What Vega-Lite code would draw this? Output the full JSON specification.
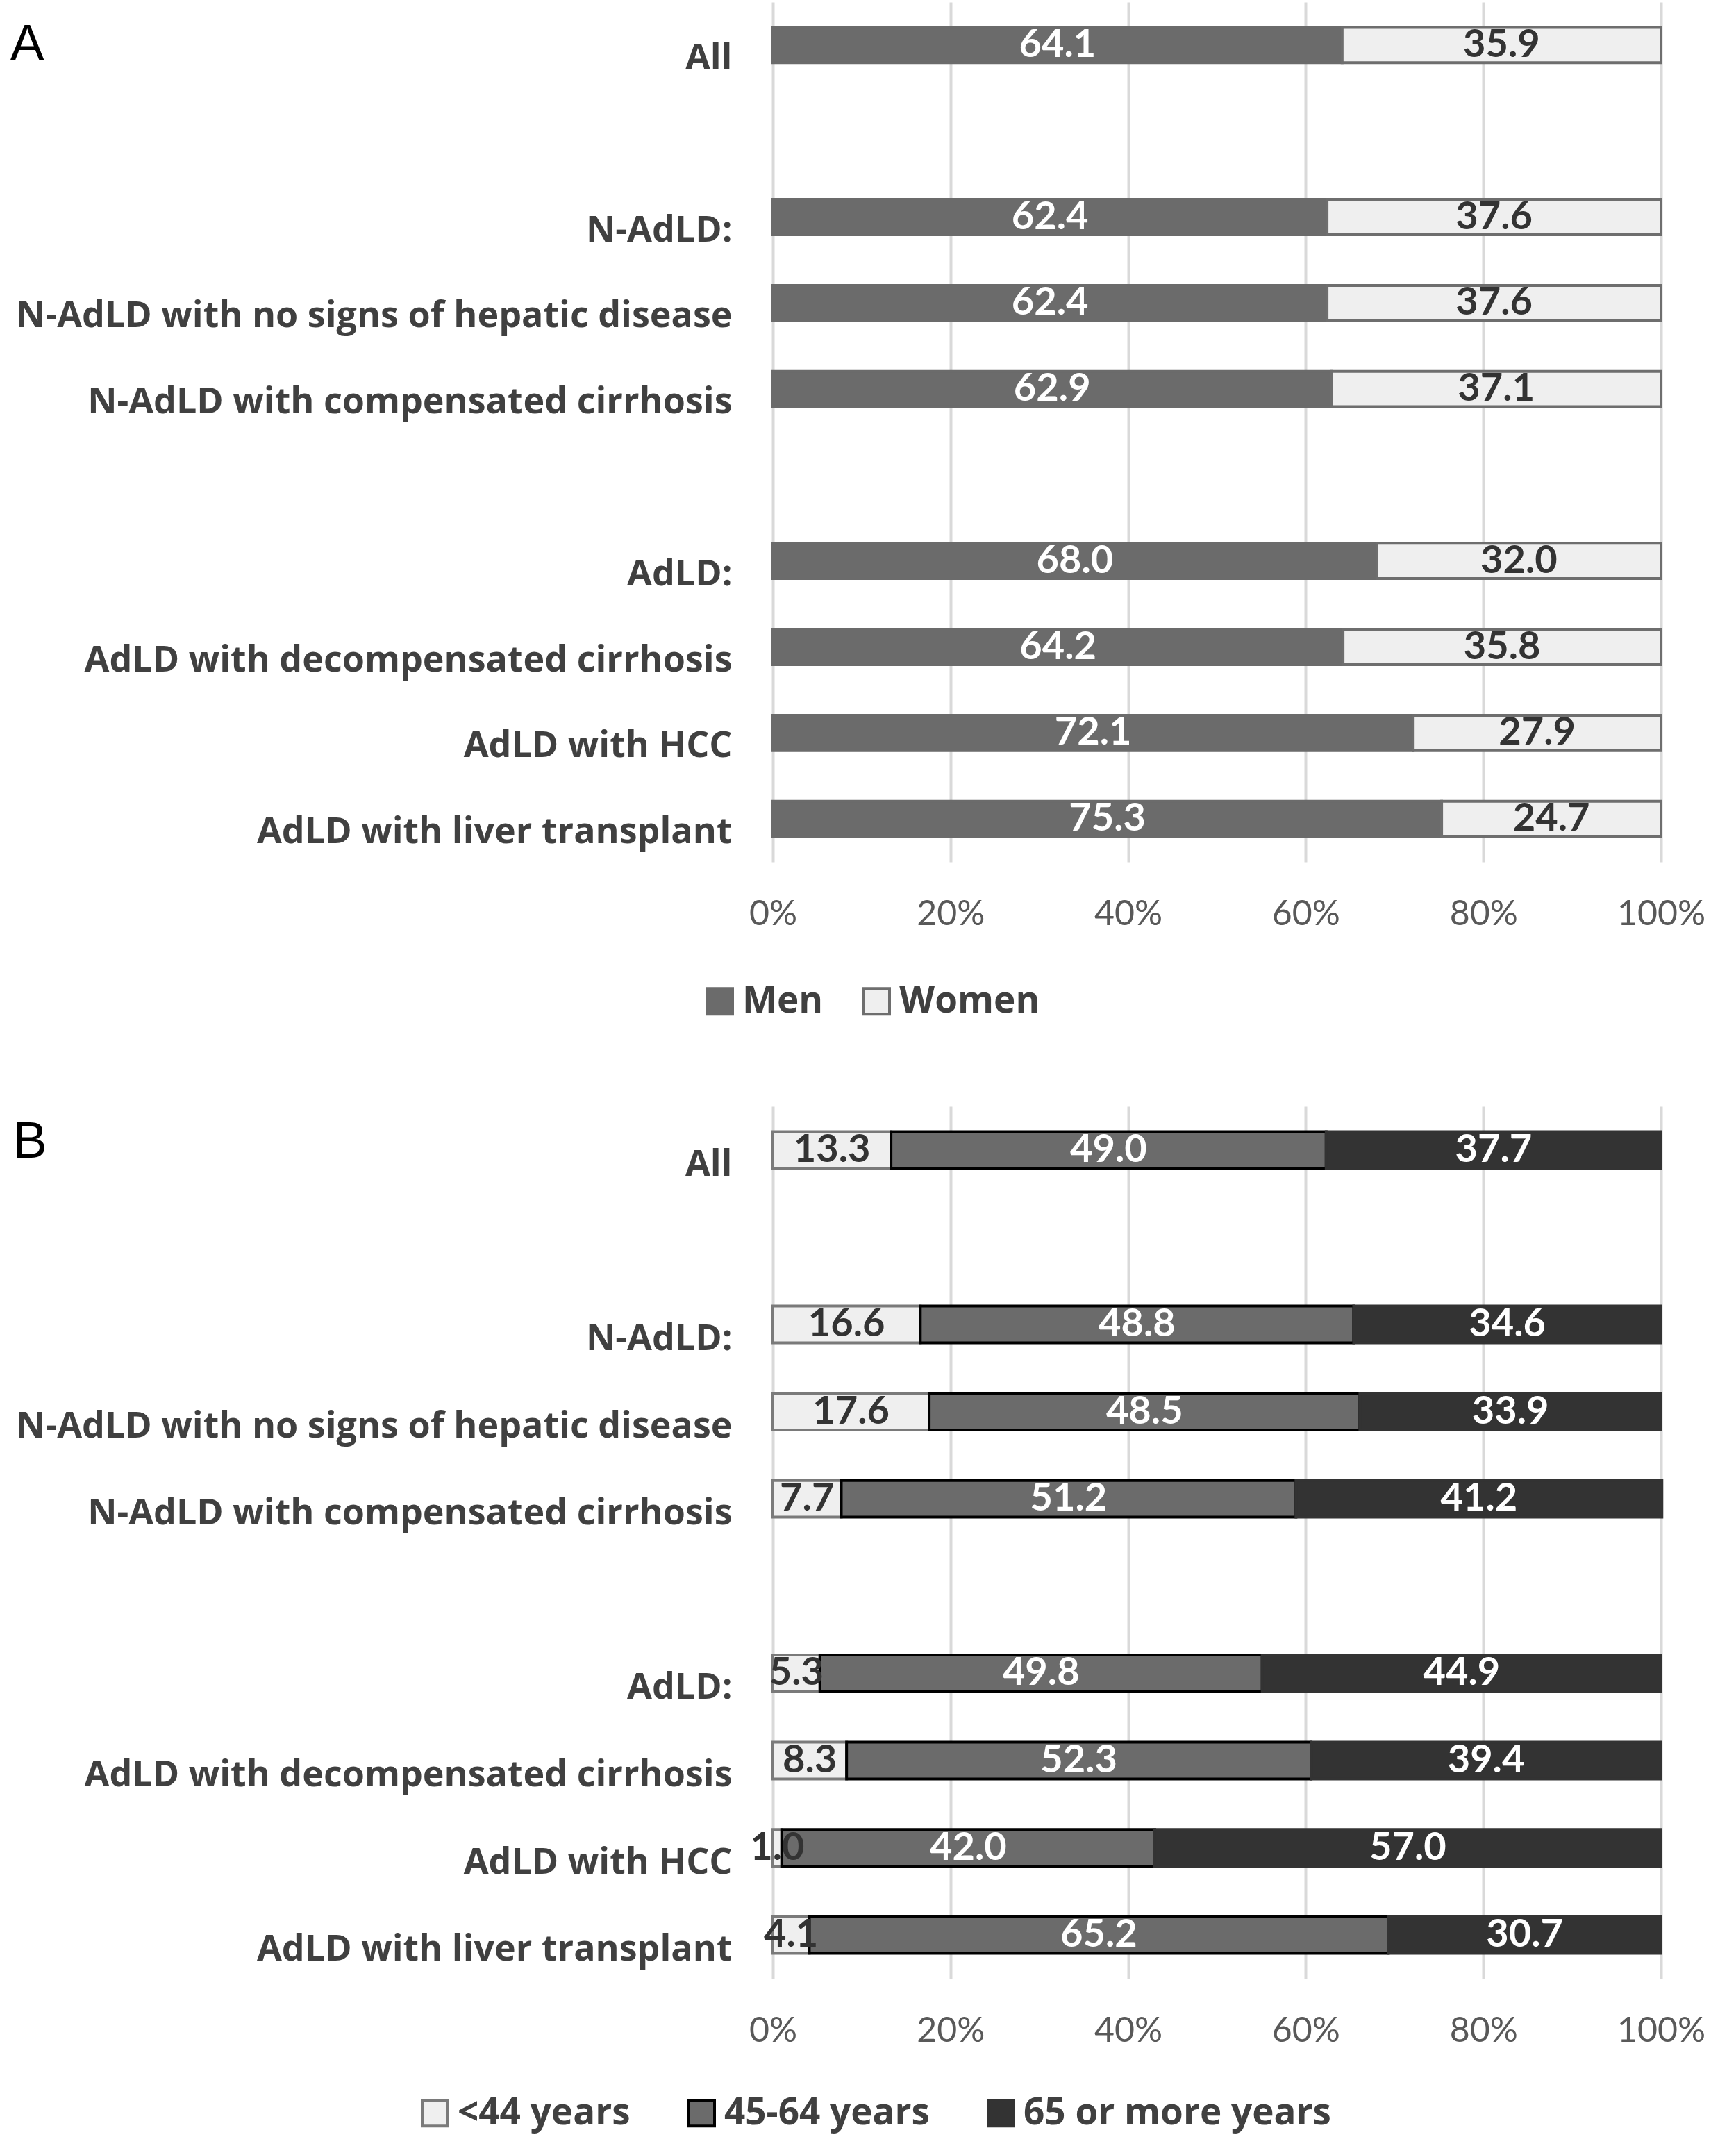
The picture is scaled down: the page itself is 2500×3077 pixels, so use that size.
{
  "$schema": "https://vega.github.io/schema/vega-lite/v6.json",
  "background": "white",
  "padding": {"left": 14, "top": 3, "right": 30, "bottom": 5},
  "spacing": 124,
  "resolve": {"scale": {"color": "independent", "stroke": "independent"}, "legend": {"color": "independent", "stroke": "independent"}},
  "config": {"view": {"stroke": null}, "font": "Lato"},
  "datasets": {
    "sex": [
      {"group": "All", "sex": "Men", "k": 1, "pct": 64.1},
      {"group": "All", "sex": "Women", "k": 2, "pct": 35.9},
      {"group": "N-AdLD:", "sex": "Men", "k": 1, "pct": 62.4},
      {"group": "N-AdLD:", "sex": "Women", "k": 2, "pct": 37.6},
      {"group": "N-AdLD with no signs of hepatic disease", "sex": "Men", "k": 1, "pct": 62.4},
      {"group": "N-AdLD with no signs of hepatic disease", "sex": "Women", "k": 2, "pct": 37.6},
      {"group": "N-AdLD with compensated cirrhosis", "sex": "Men", "k": 1, "pct": 62.9},
      {"group": "N-AdLD with compensated cirrhosis", "sex": "Women", "k": 2, "pct": 37.1},
      {"group": "AdLD:", "sex": "Men", "k": 1, "pct": 68.0},
      {"group": "AdLD:", "sex": "Women", "k": 2, "pct": 32.0},
      {"group": "AdLD with decompensated cirrhosis", "sex": "Men", "k": 1, "pct": 64.2},
      {"group": "AdLD with decompensated cirrhosis", "sex": "Women", "k": 2, "pct": 35.8},
      {"group": "AdLD with HCC", "sex": "Men", "k": 1, "pct": 72.1},
      {"group": "AdLD with HCC", "sex": "Women", "k": 2, "pct": 27.9},
      {"group": "AdLD with liver transplant", "sex": "Men", "k": 1, "pct": 75.3},
      {"group": "AdLD with liver transplant", "sex": "Women", "k": 2, "pct": 24.7}
    ],
    "age": [
      {"group": "All", "age": "<44 years", "k": 1, "pct": 13.3},
      {"group": "All", "age": "45-64 years", "k": 2, "pct": 49.0},
      {"group": "All", "age": "65 or more years", "k": 3, "pct": 37.7},
      {"group": "N-AdLD:", "age": "<44 years", "k": 1, "pct": 16.6},
      {"group": "N-AdLD:", "age": "45-64 years", "k": 2, "pct": 48.8},
      {"group": "N-AdLD:", "age": "65 or more years", "k": 3, "pct": 34.6},
      {"group": "N-AdLD with no signs of hepatic disease", "age": "<44 years", "k": 1, "pct": 17.6},
      {"group": "N-AdLD with no signs of hepatic disease", "age": "45-64 years", "k": 2, "pct": 48.5},
      {"group": "N-AdLD with no signs of hepatic disease", "age": "65 or more years", "k": 3, "pct": 33.9},
      {"group": "N-AdLD with compensated cirrhosis", "age": "<44 years", "k": 1, "pct": 7.7},
      {"group": "N-AdLD with compensated cirrhosis", "age": "45-64 years", "k": 2, "pct": 51.2},
      {"group": "N-AdLD with compensated cirrhosis", "age": "65 or more years", "k": 3, "pct": 41.2},
      {"group": "AdLD:", "age": "<44 years", "k": 1, "pct": 5.3},
      {"group": "AdLD:", "age": "45-64 years", "k": 2, "pct": 49.8},
      {"group": "AdLD:", "age": "65 or more years", "k": 3, "pct": 44.9},
      {"group": "AdLD with decompensated cirrhosis", "age": "<44 years", "k": 1, "pct": 8.3},
      {"group": "AdLD with decompensated cirrhosis", "age": "45-64 years", "k": 2, "pct": 52.3},
      {"group": "AdLD with decompensated cirrhosis", "age": "65 or more years", "k": 3, "pct": 39.4},
      {"group": "AdLD with HCC", "age": "<44 years", "k": 1, "pct": 1.0},
      {"group": "AdLD with HCC", "age": "45-64 years", "k": 2, "pct": 42.0},
      {"group": "AdLD with HCC", "age": "65 or more years", "k": 3, "pct": 57.0},
      {"group": "AdLD with liver transplant", "age": "<44 years", "k": 1, "pct": 4.1},
      {"group": "AdLD with liver transplant", "age": "45-64 years", "k": 2, "pct": 65.2},
      {"group": "AdLD with liver transplant", "age": "65 or more years", "k": 3, "pct": 30.7}
    ]
  },
  "vconcat": [
    {
      "data": {"name": "sex"},
      "width": 1279,
      "height": 1238,
      "encoding": {
        "y": {
          "field": "group", "type": "nominal",
          "scale": {"domain": ["All", " ", "N-AdLD:", "N-AdLD with no signs of hepatic disease", "N-AdLD with compensated cirrhosis", "  ", "AdLD:", "AdLD with decompensated cirrhosis", "AdLD with HCC", "AdLD with liver transplant"], "paddingInner": 0.59, "paddingOuter": 0.295},
          "axis": {"title": "A", "titleAngle": 0, "titleX": -1099, "titleY": 83, "titleAlign": "left", "titleBaseline": "alphabetic", "titleFont": "Liberation Sans", "titleFontWeight": "normal", "titleFontSize": 74, "titleColor": "black", "labelFont": "Open Sans", "labelFontWeight": "bold", "labelFontSize": 52, "labelColor": "#404040", "labelPadding": 59, "labelOffset": 19, "labelLimit": 2000, "ticks": false, "domain": false, "grid": false}
        },
        "x": {
          "field": "pct", "type": "quantitative", "stack": "zero",
          "scale": {"domain": [0, 100]},
          "axis": {"orient": "bottom", "values": [0, 20, 40, 60, 80, 100], "labelExpr": "datum.value + '%'", "title": null, "grid": true, "gridColor": "#d9d9d9", "gridWidth": 4, "domain": false, "ticks": false, "labelFont": "Lato", "labelFontSize": 50, "labelColor": "#595959", "labelPadding": 50, "labelFlush": false, "labelOverlap": false}
        },
        "order": {"field": "k", "type": "quantitative"}
      },
      "layer": [
        {
          "mark": {"type": "bar", "strokeWidth": 4},
          "encoding": {
            "color": {"field": "sex", "type": "nominal", "scale": {"domain": ["Men", "Women"], "range": ["#6b6b6b", "#efefef"]},
              "legend": {"orient": "none", "legendX": -103, "legendY": 1412, "direction": "horizontal", "title": null, "symbolType": "square", "symbolSize": 1369, "symbolStrokeWidth": 4, "labelFont": "Open Sans", "labelFontWeight": "bold", "labelFontSize": 53, "labelColor": "#404040", "columnPadding": 50, "labelOffset": 6, "labelLimit": 1000}},
            "stroke": {"field": "sex", "type": "nominal", "scale": {"domain": ["Men", "Women"], "range": ["#6b6b6b", "#6e6e6e"]},
              "legend": {"orient": "none", "legendX": -103, "legendY": 1412, "direction": "horizontal", "title": null, "symbolType": "square", "symbolSize": 1369, "symbolStrokeWidth": 4, "labelFont": "Open Sans", "labelFontWeight": "bold", "labelFontSize": 53, "labelColor": "#404040", "columnPadding": 50, "labelOffset": 6, "labelLimit": 1000}}
          }
        },
        {
          "mark": {"type": "text", "font": "Lato", "fontWeight": "bold", "fontSize": 56, "baseline": "middle", "align": "center"},
          "encoding": {
            "x": {"field": "pct", "type": "quantitative", "stack": "zero", "bandPosition": 0.5},
            "detail": {"field": "sex"},
            "text": {"field": "pct", "type": "quantitative", "format": ".1f"},
            "color": {"condition": {"test": "datum.sex === 'Men'", "value": "#ffffff"}, "value": "#333333"}
          }
        }
      ]
    },
    {
      "data": {"name": "age"},
      "width": 1279,
      "height": 1256,
      "encoding": {
        "y": {
          "field": "group", "type": "nominal",
          "scale": {"domain": ["All", " ", "N-AdLD:", "N-AdLD with no signs of hepatic disease", "N-AdLD with compensated cirrhosis", "  ", "AdLD:", "AdLD with decompensated cirrhosis", "AdLD with HCC", "AdLD with liver transplant"], "paddingInner": 0.58, "paddingOuter": 0.29},
          "axis": {"title": "B", "titleAngle": 0, "titleX": -1095, "titleY": 73, "titleAlign": "left", "titleBaseline": "alphabetic", "titleFont": "Liberation Sans", "titleFontWeight": "normal", "titleFontSize": 74, "titleColor": "black", "labelFont": "Open Sans", "labelFontWeight": "bold", "labelFontSize": 52, "labelColor": "#404040", "labelPadding": 59, "labelOffset": 21, "labelLimit": 2000, "ticks": false, "domain": false, "grid": false}
        },
        "x": {
          "field": "pct", "type": "quantitative", "stack": "zero",
          "scale": {"domain": [0, 100]},
          "axis": {"orient": "bottom", "values": [0, 20, 40, 60, 80, 100], "labelExpr": "datum.value + '%'", "title": null, "grid": true, "gridColor": "#d9d9d9", "gridWidth": 4, "domain": false, "ticks": false, "labelFont": "Lato", "labelFontSize": 50, "labelColor": "#595959", "labelPadding": 50, "labelFlush": false, "labelOverlap": false}
        },
        "order": {"field": "k", "type": "quantitative"}
      },
      "layer": [
        {
          "mark": {"type": "bar", "strokeWidth": 4},
          "encoding": {
            "color": {"field": "age", "type": "nominal", "scale": {"domain": ["<44 years", "45-64 years", "65 or more years"], "range": ["#efefef", "#6b6b6b", "#333333"]},
              "legend": {"orient": "none", "legendX": -513, "legendY": 1423, "direction": "horizontal", "title": null, "symbolType": "square", "symbolSize": 1369, "symbolStrokeWidth": 4, "labelFont": "Open Sans", "labelFontWeight": "bold", "labelFontSize": 53, "labelColor": "#404040", "columnPadding": 76, "labelOffset": 6, "labelLimit": 1000}},
            "stroke": {"field": "age", "type": "nominal", "scale": {"domain": ["<44 years", "45-64 years", "65 or more years"], "range": ["#7a7a7a", "#000000", "#333333"]},
              "legend": {"orient": "none", "legendX": -513, "legendY": 1423, "direction": "horizontal", "title": null, "symbolType": "square", "symbolSize": 1369, "symbolStrokeWidth": 4, "labelFont": "Open Sans", "labelFontWeight": "bold", "labelFontSize": 53, "labelColor": "#404040", "columnPadding": 76, "labelOffset": 6, "labelLimit": 1000}}
          }
        },
        {
          "mark": {"type": "text", "font": "Lato", "fontWeight": "bold", "fontSize": 56, "baseline": "middle", "align": "center"},
          "encoding": {
            "x": {"field": "pct", "type": "quantitative", "stack": "zero", "bandPosition": 0.5},
            "detail": {"field": "age"},
            "text": {"field": "pct", "type": "quantitative", "format": ".1f"},
            "color": {"condition": {"test": "datum.age === '<44 years'", "value": "#333333"}, "value": "#ffffff"}
          }
        }
      ]
    }
  ]
}
